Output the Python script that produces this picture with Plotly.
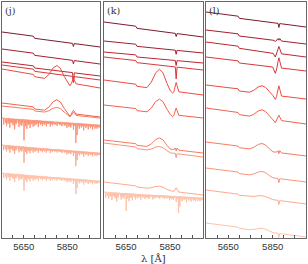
import numpy as np
import plotly.graph_objects as go

# ---------------- data ----------------
wave_min, wave_max = 5550, 6000
tick_vals = [5600, 5650, 5700, 5750, 5800, 5850, 5900, 5950]
tick_text = ["", "5650", "", "", "", "5850", "", ""]
panel_labels = ["(j)", "(k)", "(l)"]

colors = ["#7b1c2c", "#a41f2f", "#c0262e", "#d8383a", "#ee4b3e",
          "#f5604a", "#f87a62", "#fa9478", "#fcab90", "#fdc2aa"]

# feature templates (wavelength, relative shape)
step_wave = [5550, 5694, 5700, 6000]
step_shape = [0, 0, -1, -1]
bump_wave = [5745, 5765, 5785, 5802, 5818, 5836, 5852]
bump_shape = [0, 0.3, 0.8, 1.0, 0.85, 0.35, 0]
dip_wave = [5850, 5862, 5870]
dip_shape = [0, -1, 0]
peak_wave = [5868, 5878, 5890]
peak_shape = [0, 1, 0]
nar_wave = [5874, 5878, 5882]
nar_shape = [0, -1, 0]

# stellar absorption lines (strong set and weak set)
abs_line_wave = [5558, 5564, 5571, 5578, 5586, 5593, 5601, 5608, 5615, 5622,
                 5628, 5635, 5641, 5651, 5658, 5664, 5671, 5679, 5686, 5693,
                 5701, 5709, 5717, 5726, 5736, 5746, 5754, 5763, 5772, 5782,
                 5792, 5803, 5814, 5825, 5836, 5848, 5857, 5866, 5878, 5889,
                 5895, 5905, 5914, 5925, 5935, 5946, 5956, 5966, 5977, 5987, 5996]
abs_line_depth = [0.5, 0.3, 0.6, 0.4, 0.7, 0.3, 0.5, 0.8, 0.4, 0.3,
                  0.6, 0.4, 0.5, 1.6, 0.5, 0.7, 0.4, 0.6, 0.3, 0.5,
                  0.4, 0.3, 0.5, 0.3, 0.4, 0.3, 0.4, 0.2, 0.4, 0.3,
                  0.2, 0.3, 0.2, 0.3, 0.25, 0.4, 0.3, 0.35, 0.5, 1.5,
                  0.9, 0.4, 0.3, 0.5, 0.3, 0.4, 0.3, 0.4, 0.3, 0.3, 0.2]
weak_line_wave = [5561, 5567, 5574, 5582, 5589, 5597, 5604, 5611, 5618, 5625,
                  5631, 5638, 5645, 5654, 5661, 5667, 5675, 5682, 5689, 5697,
                  5705, 5713, 5721, 5731, 5741, 5750, 5758, 5768, 5777, 5787,
                  5797, 5808, 5819, 5830, 5842, 5852, 5861, 5871, 5883, 5900,
                  5909, 5919, 5930, 5940, 5951, 5961, 5971, 5982, 5991]
weak_line_depth = [0.25, 0.35, 0.2, 0.3, 0.25, 0.35, 0.2, 0.3, 0.25, 0.3,
                   0.2, 0.3, 0.25, 0.3, 0.2, 0.25, 0.3, 0.2, 0.25, 0.2,
                   0.25, 0.2, 0.15, 0.25, 0.2, 0.15, 0.2, 0.15, 0.2, 0.15,
                   0.2, 0.15, 0.2, 0.15, 0.2, 0.15, 0.2, 0.15, 0.2, 0.2,
                   0.15, 0.2, 0.15, 0.2, 0.15, 0.2, 0.15, 0.2, 0.15]

# per-spectrum parameters, rows top to bottom, for panels j, k, l
j_left  = [20.6, 18.9, 17.6, 17.3, 16.9, 13.5, 13.2, 12.0, 9.3, 6.5]
j_right = [19.1, 17.4, 16.2, 15.8, 15.0, 12.1, 12.0, 11.3, 8.5, 5.7]
j_step  = [0.2, 0.2, 0.2, 0.2, 0.2, 0.2, 0.15, 0, 0, 0]
j_bump  = [0, 0, 0, 0, 1.5, 1.2, 0.6, 0, 0, 0]
j_dip   = [0, 0, 0, 0, 0.3, 0.3, 0.2, 0, 0, 0]
j_peak  = [0, 0, 0, 0, 0.5, 0.35, 0.3, 0, 0, 0]
j_nar   = [0.3, 0.35, 0.9, 0.6, 0, 0, 0, 0, 0, 0]
j_abs   = [0, 0, 0, 0, 0, 0, 0, 1.3, 1.0, 1.0]

k_left  = [21.6, 19.7, 18.6, 18.1, 15.8, 13.3, 9.8, 9.5, 5.6, 4.6]
k_right = [20.1, 18.5, 17.5, 16.8, 14.3, 12.0, 8.5, 8.1, 4.3, 4.0]
k_step  = [0.2, 0.2, 0.2, 0.2, 0.2, 0.2, 0.15, 0.15, 0.1, 0]
k_bump  = [0, 0, 0, 0, 2.0, 1.4, 1.0, 0.5, 0.35, 0]
k_dip   = [0, 0, 0, 0, 0.2, 0.2, 0, 0, 0, 0]
k_peak  = [0, 0, 0, 0, 0.9, 0.7, 0.3, 0, 0.4, 0]
k_nar   = [0.3, 0.4, 0.5, 1.2, 0, 0, 0.4, 0.4, 0, 0]
k_abs   = [0, 0, 0, 0, 0, 0, 0, 0, 0, 1.1]

l_left  = [22.6, 20.8, 19.6, 18.1, 15.3, 13.0, 9.6, 7.0, 4.8, 1.5]
l_right = [21.1, 19.4, 18.1, 16.7, 13.9, 11.4, 8.2, 5.6, 3.4, 0.1]
l_step  = [0.2, 0.2, 0.2, 0.2, 0.2, 0.2, 0.15, 0.15, 0.1, 0.1]
l_bump  = [0, 0, 0, 0, 0.8, 0.8, 0.7, 0.5, 0.25, 0.3]
l_dip   = [0, 0.1, 0.4, 0.6, 0.4, 0.3, 0, 0, 0, 0]
l_peak  = [0, 0.35, 0.7, 1.0, 1.0, 0.5, 0.3, 0, 0, 0]
l_nar   = [0.4, 0.3, 0, 0, 0, 0, 0.4, 0.4, 0.4, 0.4]
l_abs   = [0, 0, 0, 0, 0, 0, 0, 0, 0, 0]

panels = [
    (j_left, j_right, j_step, j_bump, j_dip, j_peak, j_nar, j_abs),
    (k_left, k_right, k_step, k_bump, k_dip, k_peak, k_nar, k_abs),
    (l_left, l_right, l_step, l_bump, l_dip, l_peak, l_nar, l_abs),
]

# ---------------- build ----------------
all_lines = sorted(zip(abs_line_wave + weak_line_wave, abs_line_depth + weak_line_depth))
abs_wave_knots, abs_shape_knots = [], []
for w, d in all_lines:
    abs_wave_knots += [w - 1.2, w, w + 1.2]
    abs_shape_knots += [0, -d, 0]


def spectrum(left, right, step, bump, dip, peak, nar, absamp):
    knots = [wave_min, wave_max] + step_wave + bump_wave + dip_wave + peak_wave + nar_wave
    if absamp:
        knots += abs_wave_knots
    x = np.unique(np.array(knots, dtype=float))
    y = left + (right + step - left) * (x - wave_min) / (wave_max - wave_min)
    y = y + step * np.interp(x, step_wave, step_shape)
    y = y + bump * np.interp(x, bump_wave, bump_shape, left=0, right=0)
    y = y + dip * np.interp(x, dip_wave, dip_shape, left=0, right=0)
    y = y + peak * np.interp(x, peak_wave, peak_shape, left=0, right=0)
    y = y + nar * np.interp(x, nar_wave, nar_shape, left=0, right=0)
    if absamp:
        y = y + absamp * np.interp(x, abs_wave_knots, abs_shape_knots, left=0, right=0)
    return x, y


fig = go.Figure()
W, H = 308, 264
ml, mr, mt, mb = 2, 2, 2, 26
pw = W - ml - mr
px_domains = [(2, 100), (104, 203), (206, 306)]
domains = [((a - ml) / pw, (b - ml) / pw) for a, b in px_domains]

for pi, params in enumerate(panels):
    xa = "x" if pi == 0 else f"x{pi+1}"
    ya = "y" if pi == 0 else f"y{pi+1}"
    for r in range(10):
        x, y = spectrum(*[p[r] for p in params])
        fig.add_trace(go.Scatter(x=x, y=y, mode="lines", xaxis=xa, yaxis=ya,
                                 line=dict(color=colors[r], width=1),
                                 showlegend=False, hoverinfo="skip"))

layout = dict(width=W, height=H, margin=dict(l=ml, r=mr, t=mt, b=mb),
              paper_bgcolor="white", plot_bgcolor="white", showlegend=False)
for pi in range(3):
    sx = "" if pi == 0 else str(pi + 1)
    layout["xaxis" + sx] = dict(domain=list(domains[pi]), range=[wave_min, wave_max],
                                tickvals=tick_vals, ticktext=tick_text, ticks="inside",
                                ticklen=3, tickcolor="#555", tickwidth=1,
                                showline=True, mirror=True, linecolor="#666", linewidth=1,
                                showgrid=False, zeroline=False,
                                tickfont=dict(family="Liberation Sans", size=9.5, color="#333"),
                                anchor="y" + sx)
    layout["yaxis" + sx] = dict(domain=[0, 1], range=[0, 23.6], showticklabels=False,
                                ticks="", showline=True, mirror=True, linecolor="#666",
                                linewidth=1, showgrid=False, zeroline=False,
                                anchor="x" + sx)
fig.update_layout(**layout)

for pi in range(3):
    sx = "" if pi == 0 else str(pi + 1)
    fig.add_annotation(text=panel_labels[pi], xref=f"x{sx} domain", yref=f"y{sx} domain",
                       x=0.01, y=0.995, xanchor="left", yanchor="top", showarrow=False,
                       font=dict(family="DejaVu Serif", size=9.5, color="#333"))

fig.add_annotation(text="λ [Å]", xref="paper", yref="paper",
                   x=(domains[1][0] + domains[1][1]) / 2, y=-20 / (H - mt - mb),
                   xanchor="center", yanchor="middle", showarrow=False,
                   font=dict(family="DejaVu Serif", size=10, color="#333"))

fig.write_html("out.html", config={"displayModeBar": False},
               post_script="document.body.style.margin='0';document.body.style.overflow='hidden';")
